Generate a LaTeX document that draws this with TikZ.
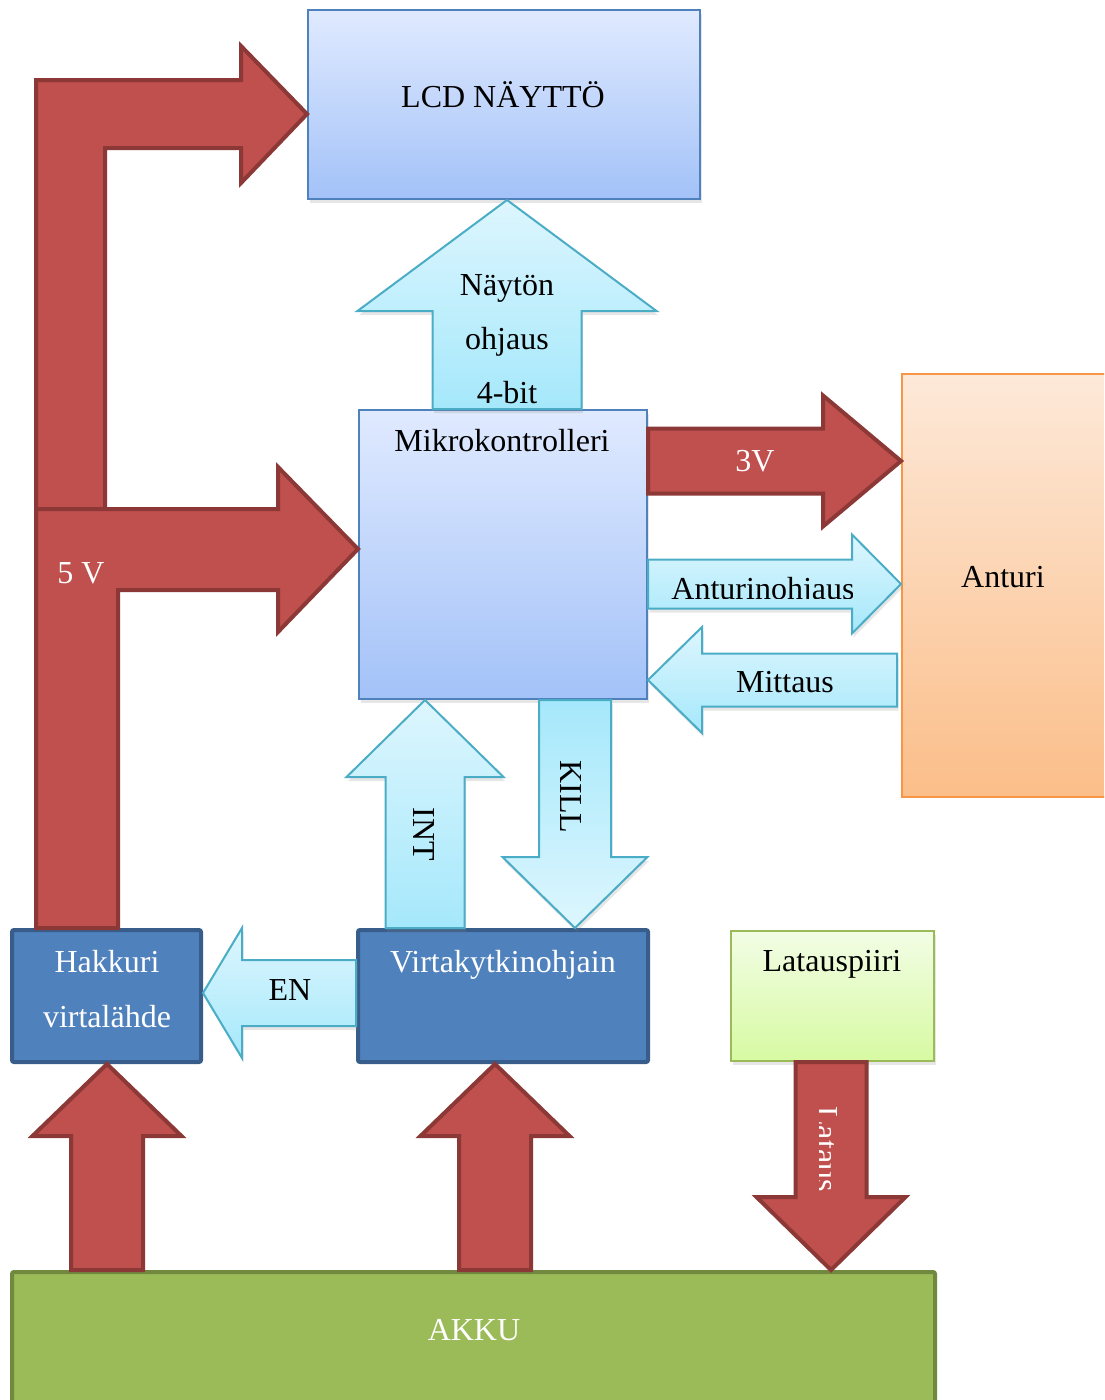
\documentclass[tikz,border=0pt]{standalone}
\usepackage{fontspec}
\setmainfont{Liberation Serif}
\usepackage{xcolor}
\usepackage{tikz}
\usetikzlibrary{calc,shadows}

\definecolor{redfill}{HTML}{C0504D}
\definecolor{redline}{HTML}{8C3836}
\definecolor{cyanlight}{HTML}{DDF6FE}
\definecolor{cyandark}{HTML}{A5E8FB}
\definecolor{cyanline}{HTML}{4BACC6}
\definecolor{bluelight}{HTML}{E0EAFF}
\definecolor{bluedark}{HTML}{A3C2F8}
\definecolor{blueline}{HTML}{4F81BD}
\definecolor{bluedeep}{HTML}{385D8A}
\definecolor{orangelight}{HTML}{FDE9D9}
\definecolor{orangedark}{HTML}{FBBE89}
\definecolor{orangeline}{HTML}{F79646}
\definecolor{greenlight}{HTML}{F2FDE5}
\definecolor{greendark}{HTML}{D7FAA2}
\definecolor{greenfill}{HTML}{9BBB59}
\definecolor{greendeep}{HTML}{71893F}

% [style]{tail}{tip}{half shaft}{half head}{head length}
\newcommand{\blockarrow}[6][]{%
  \path ($(#3)!#6!(#2)$) coordinate (headbase);
  \draw[#1] ($(#2)!#4!90:(#3)$) -- ($(headbase)!#4!90:(#3)$) -- ($(headbase)!#5!90:(#3)$)
    -- (#3) -- ($(headbase)!#5!-90:(#3)$) -- ($(headbase)!#4!-90:(#3)$)
    -- ($(#2)!#4!-90:(#3)$) -- cycle;}

\tikzset{
  softshadow/.style={drop shadow={opacity=0.2, shadow xshift=1.5pt, shadow yshift=-4pt}},
  lightbox/.style={draw=blueline, line width=2pt, top color=bluelight, bottom color=bluedark, inner sep=0pt, softshadow},
  sensorbox/.style={draw=orangeline, line width=2pt, top color=orangelight, bottom color=orangedark, inner sep=0pt},
  chargebox/.style={draw=greenfill, line width=2pt, top color=greenlight, bottom color=greendark, inner sep=0pt, softshadow},
  darkbox/.style={fill=blueline, draw=bluedeep, line width=4pt, rounded corners=2pt, inner sep=0pt},
  battbox/.style={fill=greenfill, draw=greendeep, line width=4pt, rounded corners=2pt, inner sep=0pt},
  redarrow/.style={fill=redfill, draw=redline, line width=4pt},
  cyanarrow/.style={draw=cyanline, line width=2pt, top color=cyanlight, bottom color=cyandark, softshadow},
  cyandown/.style={cyanarrow, top color=cyandark, bottom color=cyanlight},
  txt/.style={anchor=base, inner sep=0pt, font=\fontsize{32}{38}\selectfont},
}

\begin{document}
\begin{tikzpicture}[x=1pt, y=-1pt]
  \path[use as bounding box] (0,0) rectangle (1104,1400);
  \clip (0,0) rectangle (1104,1400);

  % blocks
  \node[lightbox, minimum width=392pt, minimum height=189pt] (lcd) at (504,104.5) {};
  \node[lightbox, minimum width=288pt, minimum height=289pt] (mcu) at (503,554.5) {};
  \node[sensorbox, minimum width=212pt, minimum height=423pt] (anturi) at (1008,585.5) {};
  \node[darkbox, minimum width=189pt, minimum height=132pt] (hak) at (106.5,996) {};
  \node[darkbox, minimum width=290pt, minimum height=132pt] (vkt) at (503,996) {};
  \node[chargebox, minimum width=203pt, minimum height=130pt] (lat) at (832.5,996) {};
  \node[battbox, minimum width=923pt, minimum height=140pt] (akku) at (473.5,1342) {};

  % 5 V supply
  \draw[redarrow] (36,520) -- (36,80) -- (241,80) -- (241,46) -- (lcd.west |- 0,114)
    -- (241,183) -- (241,148) -- (105,148) -- (105,520) -- cycle;
  \draw[redarrow] (36,0 |- hak.north) -- (36,509) -- (278,509) -- (278,467) -- (mcu.west |- 0,549)
    -- (278,632) -- (278,590) -- (118,590) -- (118,0 |- hak.north) -- cycle;

  % connectors
  \coordinate (naytA) at (507,0 |- mcu.north);
  \coordinate (naytB) at (507,0 |- lcd.south);
  \coordinate (vA) at (mcu.east |- 0,461);
  \coordinate (vB) at (anturi.west |- 0,461);
  \coordinate (ohjA) at (mcu.east |- 0,584);
  \coordinate (ohjB) at (anturi.west |- 0,584);
  \coordinate (mitA) at (897,680);
  \coordinate (mitB) at (mcu.east |- 0,680);
  \coordinate (intA) at (425,0 |- vkt.north);
  \coordinate (intB) at (425,0 |- mcu.south);
  \coordinate (killA) at (575,0 |- mcu.south);
  \coordinate (killB) at (575,0 |- vkt.north);
  \coordinate (enA) at (vkt.west |- 0,993);
  \coordinate (enB) at (hak.east |- 0,993);
  \coordinate (hakA) at (107,0 |- akku.north);
  \coordinate (hakB) at (107,0 |- hak.south);
  \coordinate (vktA) at (495,0 |- akku.north);
  \coordinate (vktB) at (495,0 |- vkt.south);
  \coordinate (latA) at (831,0 |- lat.south);
  \coordinate (latB) at (831,0 |- akku.north);

  \blockarrow[cyanarrow]{naytA}{naytB}{74.5pt}{149.5pt}{111pt}
  \blockarrow[redarrow]{vA}{vB}{32.5pt}{65.5pt}{78pt}
  \blockarrow[cyanarrow]{ohjA}{ohjB}{24.5pt}{49.5pt}{49pt}
  \blockarrow[cyanarrow]{mitA}{mitB}{26.5pt}{53pt}{54pt}
  \blockarrow[cyanarrow]{intA}{intB}{39.5pt}{78.5pt}{77pt}
  \blockarrow[cyandown]{killA}{killB}{36pt}{72.5pt}{71pt}
  \blockarrow[cyanarrow]{enA}{enB}{33pt}{65pt}{39pt}
  \blockarrow[redarrow]{hakA}{hakB}{36pt}{74.5pt}{72pt}
  \blockarrow[redarrow]{vktA}{vktB}{36pt}{74.5pt}{72pt}
  \blockarrow[redarrow]{latA}{latB}{35.5pt}{74.5pt}{73pt}

  % texts
  \node[txt] (lcdlbl) at (503,107) {LCD NÄYTTÖ};
  \node[txt] (mculbl) at (502,451) {Mikrokontrolleri};
  \node[txt, anchor=north, align=center, font=\fontsize{32}{54}\selectfont] (naytlbl) at (507,274) {Näytön\\ohjaus\\4-bit};
  \node[txt, white] (vlbl) at (755,471) {3V};
  \begin{scope}
    \clip (650,540) rectangle (852,598);
    \node[txt] (ohjlbl) at (763,599) {Anturinohjaus};
  \end{scope}
  \node[txt] (mitlbl) at (785,692) {Mittaus};
  \node[txt] (anturilbl) at (1003,587) {Anturi};
  \node[txt, white] (fivelbl) at (81,583) {5 V};
  \node[txt, rotate=-90] (intlbl) at (413,834) {INT};
  \node[txt, rotate=-90] (killlbl) at (560,797) {KILL};
  \node[txt, white, anchor=north, align=center, font=\fontsize{32}{55}\selectfont] (haklbl) at (107,950) {Hakkuri\\virtalähde};
  \node[txt, white] (vktlbl) at (503,972) {Virtakytkinohjain};
  \node[txt] (enlbl) at (290,1000) {EN};
  \node[txt] (latlbl) at (832,971) {Latauspiiri};
  \begin{scope}
    \clip (819,1090) rectangle (870,1200);
    \node[txt, white, rotate=-90] (latauslbl) at (816,1149) {Lataus};
  \end{scope}
  \node[txt, white] (akkulbl) at (474,1340) {AKKU};
\end{tikzpicture}
\end{document}
